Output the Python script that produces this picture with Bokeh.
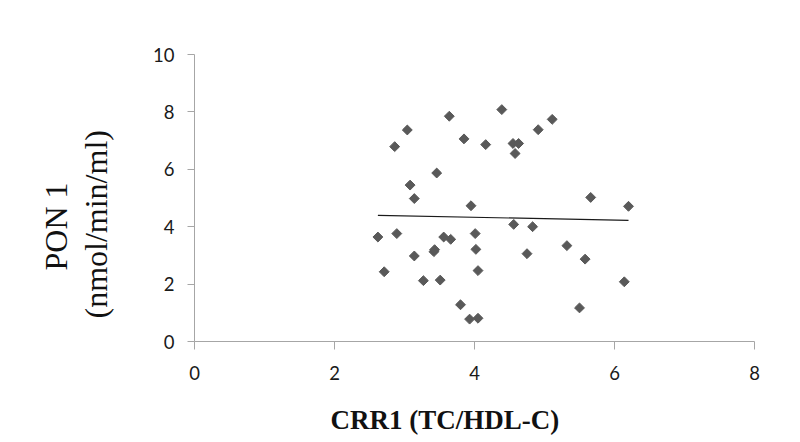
import numpy as np
from bokeh.plotting import figure
from bokeh.models import Range1d, Title, FixedTicker
from bokeh.embed import file_html
from bokeh.resources import INLINE

# CRR1 (TC/HDL-C) vs PON 1 (nmol/min/ml)
crr1 = [2.62, 2.71, 2.86, 2.89, 3.04, 3.08, 3.14, 3.14, 3.27, 3.42,
        3.43, 3.46, 3.51, 3.56, 3.64, 3.66, 3.80, 3.85, 3.93, 3.95,
        4.01, 4.02, 4.05, 4.05, 4.39, 4.16, 4.55, 4.63, 4.58, 4.91,
        5.11, 5.66, 6.20, 4.56, 4.83, 4.75, 5.32, 5.58, 6.14, 5.50]
pon1 = [3.64, 2.43, 6.79, 3.76, 7.37, 5.45, 4.98, 2.98, 2.12, 3.13,
        3.20, 5.87, 2.14, 3.64, 7.85, 3.56, 1.28, 7.06, 0.78, 4.73,
        3.76, 3.21, 2.47, 0.81, 8.08, 6.86, 6.90, 6.90, 6.55, 7.38,
        7.74, 5.02, 4.71, 4.08, 4.00, 3.06, 3.34, 2.87, 2.08, 1.17]

# linear trend line as drawn in the picture
trend_slope = -0.048
trend_intercept = 4.52

x_ticks = [0, 2, 4, 6, 8]
y_ticks = [0, 2, 4, 6, 8, 10]
x_title = "CRR1 (TC/HDL-C)"
y_title_1 = "PON 1"
y_title_2 = "(nmol/min/ml)"

p = figure(width=784, height=442, output_backend="svg", toolbar_location=None,
           x_range=Range1d(0, 8), y_range=Range1d(0, 10),
           min_border_left=194, min_border_right=30,
           min_border_top=54, min_border_bottom=101)
p.outline_line_color = None
p.grid.visible = False
p.background_fill_color = "white"
p.border_fill_color = "white"

axis_grey = "#a6a6a6"
for ax in (p.xaxis[0], p.yaxis[0]):
    ax.axis_line_color = axis_grey
    ax.major_tick_line_color = axis_grey
    ax.minor_tick_line_color = None
    ax.major_tick_in = 0
    ax.major_label_text_font = "Lato"
    ax.major_label_text_font_size = "18.5px"
    ax.major_label_text_color = "#1a1a1a"

p.xaxis.ticker = FixedTicker(ticks=x_ticks)
p.yaxis.ticker = FixedTicker(ticks=y_ticks)
p.xaxis.major_tick_out = 8
p.yaxis.major_tick_out = 7
p.xaxis.major_label_standoff = 16
p.yaxis.major_label_standoff = 13

p.scatter(crr1, pon1, marker="square", angle=np.pi / 4, size=7,
          fill_color="#595959", line_color="#595959")

xt = [min(crr1), max(crr1)]
yt = [trend_intercept + trend_slope * x for x in xt]
p.line(xt, yt, line_color="#1a1a1a", line_width=1.2)

# spacers between the tick labels and the axis titles
p.add_layout(Title(text=" ", standoff=7, text_font_size="10px"), "below")
p.add_layout(Title(text=" ", standoff=22, text_font_size="10px"), "left")

p.add_layout(Title(text=x_title, align="left", offset=136, standoff=0,
                   text_font="Liberation Serif", text_font_size="27px",
                   text_font_style="bold", text_color="#111111"), "below")
p.add_layout(Title(text=y_title_2, align="left", offset=23, standoff=4,
                   text_font="Liberation Serif", text_font_size="32px",
                   text_font_style="normal", text_color="#111111"), "left")
p.add_layout(Title(text=y_title_1, align="left", offset=71, standoff=0,
                   text_font="Liberation Serif", text_font_size="32px",
                   text_font_style="normal", text_color="#111111"), "left")

open("out.html", "w").write(file_html(p, INLINE))
